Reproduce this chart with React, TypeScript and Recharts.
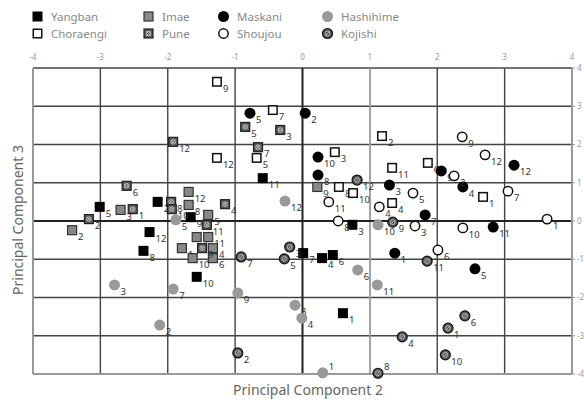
import React from "react";
import {
  CartesianGrid,
  ReferenceLine,
  Scatter,
  ScatterChart,
  XAxis,
  YAxis,
} from "recharts";

const ticks = [-4, -3, -2, -1, 0, 1, 2, 3, 4];

// [PC2, PC3, sample number]
const yangban = [
  [-0.59, 1.12, 11], [-2.15, 0.5, 2], [-3.01, 0.37, 5], [-1.66, 0.1, 9],
  [-2.27, -0.29, 12], [-2.36, -0.78, 8], [-1.57, -1.46, 10], [0.01, -0.84, 7],
  [0.29, -0.97, 4], [0.45, -0.89, 6], [0.74, -0.1, 3], [0.6, -2.41, 1],
];
const choraengi = [
  [-1.27, 3.64, 9], [-0.44, 2.9, 7], [-0.68, 1.65, 5], [-1.27, 1.65, 12],
  [1.18, 2.22, 2], [0.48, 1.8, 3], [0.54, 0.89, 8], [0.75, 0.73, 10],
  [1.33, 1.39, 11], [1.86, 1.52, 6], [2.68, 0.63, 1], [1.33, 0.47, 4],
];
const imae = [
  [-3.42, -0.24, 2], [-2.7, 0.29, 3], [-1.69, 0.76, 12], [-1.69, 0.42, 8],
  [-1.4, 0.16, 5], [-1.57, -0.42, 7], [-1.4, -0.42, 11], [-1.79, -0.71, 1],
  [-1.63, -0.97, 10], [-1.33, -0.97, 6], [-1.33, -0.71, 4], [0.22, 0.89, 9],
];
const pune = [
  [-0.85, 2.46, 5], [-0.33, 2.38, 3], [-0.66, 1.93, 7], [-1.92, 2.07, 12],
  [-2.61, 0.92, 6], [-1.95, 0.5, 8], [-1.94, 0.31, 10], [-1.15, 0.44, 4],
  [-2.52, 0.31, 1], [-3.17, 0.05, 2], [-1.49, -0.71, 9], [-1.42, -0.1, 11],
];
const maskani = [
  [-0.78, 2.82, 5], [0.04, 2.82, 2], [0.23, 1.67, 10], [0.23, 1.2, 8],
  [1.29, 0.94, 3], [2.06, 1.31, 9], [2.38, 0.89, 4], [3.14, 1.46, 12],
  [1.82, 0.16, 7], [2.83, -0.16, 11], [1.37, -0.84, 1], [2.56, -1.25, 5],
];
const shoujou = [
  [2.37, 2.2, 9], [2.71, 1.73, 12], [2.25, 1.18, 2], [3.05, 0.78, 7],
  [1.64, 0.73, 5], [0.39, 0.5, 11], [1.14, 0.37, 4], [0.53, 0.0, 8],
  [1.67, -0.13, 3], [2.38, -0.18, 10], [3.63, 0.05, 1], [2.01, -0.76, 6],
];
const hashihime = [
  [-0.26, 0.52, 12], [-1.88, 0.03, 5], [-2.79, -1.67, 3], [-1.92, -1.78, 7],
  [-0.96, -1.88, 9], [-2.12, -2.72, 2], [-0.11, -2.2, 8], [-0.01, -2.54, 4],
  [0.82, -1.28, 6], [1.11, -1.67, 11], [1.12, -0.1, 10], [0.3, -3.97, 1],
];
const kojishi = [
  [-0.96, -3.45, 2], [-0.91, -0.94, 7], [-0.19, -0.68, 3], [-0.27, -0.99, 5],
  [0.81, 1.07, 12], [1.34, -0.03, 9], [1.85, -1.05, 11], [1.48, -3.03, 4],
  [2.16, -2.8, 1], [2.41, -2.48, 6], [2.12, -3.5, 10], [1.12, -3.98, 8],
];

type Kind =
  | "yangban" | "choraengi" | "imae" | "pune"
  | "maskani" | "shoujou" | "hashihime" | "kojishi";

const series: { name: string; kind: Kind; pts: number[][] }[] = [
  { name: "Yangban", kind: "yangban", pts: yangban },
  { name: "Choraengi", kind: "choraengi", pts: choraengi },
  { name: "Imae", kind: "imae", pts: imae },
  { name: "Pune", kind: "pune", pts: pune },
  { name: "Maskani", kind: "maskani", pts: maskani },
  { name: "Shoujou", kind: "shoujou", pts: shoujou },
  { name: "Hashihime", kind: "hashihime", pts: hashihime },
  { name: "Kojishi", kind: "kojishi", pts: kojishi },
];

function Marker({ kind, cx, cy }: { kind: Kind; cx: number; cy: number }) {
  const h = 5;
  const r = 5.5;
  switch (kind) {
    case "yangban":
      return <rect x={cx - h} y={cy - h} width={2 * h} height={2 * h} fill="#000" />;
    case "choraengi":
      return <rect x={cx - h + 0.75} y={cy - h + 0.75} width={2 * h - 1.5} height={2 * h - 1.5} fill="#fff" stroke="#111" strokeWidth={1.5} />;
    case "imae":
      return <rect x={cx - h + 0.5} y={cy - h + 0.5} width={2 * h - 1} height={2 * h - 1} fill="#888" stroke="#333" strokeWidth={1.2} />;
    case "pune":
      return (
        <g>
          <rect x={cx - h + 0.5} y={cy - h + 0.5} width={2 * h - 1} height={2 * h - 1} fill="#555" stroke="#222" strokeWidth={1.2} />
          <circle cx={cx} cy={cy} r={2.3} fill="none" stroke="#ccc" strokeWidth={0.9} />
          <path d={`M${cx - 2} ${cy - 2}L${cx + 2} ${cy + 2}M${cx + 2} ${cy - 2}L${cx - 2} ${cy + 2}`} stroke="#ccc" strokeWidth={0.8} />
        </g>
      );
    case "maskani":
      return <circle cx={cx} cy={cy} r={r} fill="#000" />;
    case "shoujou":
      return <circle cx={cx} cy={cy} r={r - 0.8} fill="#fff" stroke="#111" strokeWidth={1.5} />;
    case "hashihime":
      return <circle cx={cx} cy={cy} r={r} fill="#999" />;
    case "kojishi":
      return (
        <g>
          <circle cx={cx} cy={cy} r={r - 0.5} fill="#555" stroke="#111" strokeWidth={1.2} />
          <circle cx={cx} cy={cy} r={2.4} fill="none" stroke="#bbb" strokeWidth={0.9} />
          <path d={`M${cx - 2} ${cy + 2}L${cx + 2} ${cy - 2}`} stroke="#bbb" strokeWidth={0.9} />
        </g>
      );
  }
}

// number sits low-right like a subscript; near the bottom edge it goes up-right
const makeShape = (kind: Kind) => (props: any) => {
  const { cx, cy, payload } = props;
  const up = payload.y < -3.8;
  return (
    <g>
      <Marker kind={kind} cx={cx} cy={cy} />
      <text x={cx + 6} y={up ? cy - 3 : cy + 10} fontSize={9.5} fill="#333" fontFamily="'Noto Sans', sans-serif">
        {payload.n}
      </text>
    </g>
  );
};

const legendCols = [
  { left: 31, kinds: [0, 1] },
  { left: 142, kinds: [2, 3] },
  { left: 217, kinds: [4, 5] },
  { left: 321, kinds: [6, 7] },
];

export default function App() {
  const tickStyle = { fill: "#999", fontSize: 8, fontFamily: "'Noto Sans', sans-serif" };
  return (
    <div style={{ position: "absolute", left: 0, top: 0, width: 584, height: 400, background: "#fff", fontFamily: "'Noto Sans', sans-serif" }}>
      <ScatterChart width={584} height={400} margin={{ top: 38, right: 0, bottom: 26, left: 33 }}>
        <CartesianGrid stroke="#444" strokeWidth={1.4} />
        <XAxis
          type="number"
          dataKey="x"
          orientation="top"
          domain={[-4, 4]}
          ticks={ticks}
          tick={tickStyle}
          axisLine={false}
          tickLine={false}
          height={30}
        />
        <YAxis
          type="number"
          dataKey="y"
          orientation="right"
          domain={[-4, 4]}
          ticks={ticks}
          tick={tickStyle}
          axisLine={false}
          tickLine={{ stroke: "#999" }}
          tickSize={3}
          tickMargin={2}
          width={12}
        />
        <ReferenceLine x={1} stroke="#aaa" strokeWidth={1.6} />
        <ReferenceLine x={0} stroke="#222" strokeWidth={1.8} />
        <ReferenceLine y={0} stroke="#222" strokeWidth={1.8} />
        <ReferenceLine x={-4} stroke="#999" strokeWidth={2} />
        <ReferenceLine x={4} stroke="#999" strokeWidth={2} />
        <ReferenceLine y={-4} stroke="#999" strokeWidth={2} />
        {series.map((s) => (
          <Scatter
            key={s.name}
            name={s.name}
            data={s.pts.map(([x, y, n]) => ({ x, y, n }))}
            shape={makeShape(s.kind)}
            isAnimationActive={false}
          />
        ))}
      </ScatterChart>
      {legendCols.map((col) =>
        col.kinds.map((k, row) => (
          <div
            key={series[k].name}
            style={{ position: "absolute", left: col.left, top: 9 + row * 17, height: 14, display: "flex", alignItems: "center", fontSize: 11.5, color: "#888", whiteSpace: "nowrap" }}
          >
            <svg width={13} height={13} style={{ marginRight: 7 }}>
              <Marker kind={series[k].kind} cx={6.5} cy={6.5} />
            </svg>
            {series[k].name}
          </div>
        ))
      )}
      <div style={{ position: "absolute", left: 222, top: 380, width: 172, textAlign: "center", fontSize: 14, color: "#666", whiteSpace: "nowrap" }}>
        Principal Component 2
      </div>
      <div
        style={{ position: "absolute", left: 17, top: 220, transform: "translate(-50%, -50%) rotate(-90deg)", fontSize: 14, color: "#666", whiteSpace: "nowrap" }}
      >
        Principal Component 3
      </div>
    </div>
  );
}
